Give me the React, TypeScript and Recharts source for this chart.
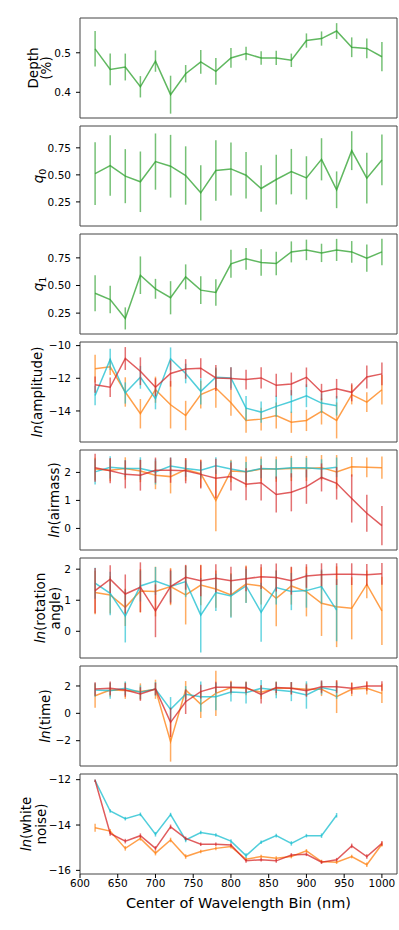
import { ErrorBar, Line, LineChart, ReferenceArea, XAxis, YAxis } from 'recharts'

const wavelengths = [620, 640, 660, 680, 700, 720, 740, 760, 780, 800, 820, 840, 860, 880, 900, 920, 940, 960, 980, 1000]
const xTicks = [600, 650, 700, 750, 800, 850, 900, 950, 1000]

const depth = [0.51, 0.458, 0.464, 0.414, 0.479, 0.394, 0.447, 0.477, 0.453, 0.487, 0.498, 0.487, 0.487, 0.481, 0.531, 0.536, 0.555, 0.514, 0.511, 0.49]
const depthErr = [0.045, 0.04, 0.034, 0.027, 0.027, 0.048, 0.022, 0.03, 0.034, 0.025, 0.017, 0.017, 0.018, 0.017, 0.018, 0.018, 0.02, 0.025, 0.025, 0.037]

const q0 = [0.512, 0.586, 0.488, 0.436, 0.623, 0.58, 0.494, 0.334, 0.54, 0.555, 0.497, 0.374, 0.457, 0.53, 0.472, 0.644, 0.362, 0.724, 0.469, 0.638]
const q0Err = [0.29, 0.28, 0.25, 0.28, 0.26, 0.29, 0.27, 0.255, 0.28, 0.245, 0.215, 0.215, 0.23, 0.21, 0.2, 0.195, 0.17, 0.18, 0.235, 0.235]

const q1 = [0.43, 0.373, 0.202, 0.593, 0.47, 0.389, 0.578, 0.458, 0.437, 0.696, 0.741, 0.708, 0.699, 0.804, 0.822, 0.795, 0.822, 0.804, 0.747, 0.804]
const q1Err = [0.163, 0.125, 0.1, 0.17, 0.09, 0.15, 0.113, 0.125, 0.12, 0.127, 0.098, 0.12, 0.107, 0.095, 0.093, 0.083, 0.1, 0.098, 0.123, 0.12]

// three observations: orange, cyan (stops at 940 nm), red
const ampOrange = [-11.41, -11.3, -12.84, -14.17, -12.7, -13.62, -14.28, -13.0, -12.6, -13.5, -14.58, -14.5, -14.28, -14.69, -14.58, -14.03, -14.58, -13.0, -13.46, -12.7]
const ampOrangeErr = [0.85, 0.5, 0.9, 0.9, 0.8, 1.45, 0.9, 0.85, 1.2, 0.8, 0.75, 0.7, 0.8, 0.65, 0.65, 0.8, 1.1, 0.6, 0.6, 0.9]
const ampCyan = [-13.05, -10.85, -12.9, -11.94, -13.25, -10.81, -11.71, -12.8, -11.94, -11.98, -13.83, -14.07, -13.72, -13.42, -13.07, -13.52, -13.68]
const ampCyanErr = [0.6, 0.65, 0.65, 0.7, 0.65, 0.7, 0.6, 0.8, 0.6, 0.65, 0.75, 0.65, 0.65, 0.7, 0.7, 0.6, 0.6]
const ampRed = [-12.39, -12.55, -10.79, -11.57, -12.55, -11.71, -11.43, -11.38, -11.98, -12.02, -12.08, -11.98, -12.43, -12.35, -11.94, -12.84, -12.64, -12.86, -11.92, -11.73]
const ampRedErr = [0.5, 0.6, 0.7, 0.85, 0.55, 0.8, 0.6, 0.6, 0.8, 0.7, 0.6, 0.65, 0.7, 0.7, 0.6, 0.5, 0.6, 0.55, 0.7, 0.7]

const airOrange = [2.12, 2.08, 2.14, 2.05, 1.9, 1.85, 2.1, 1.96, 1.0, 2.05, 2.02, 2.12, 2.12, 2.14, 2.14, 2.17, 2.02, 2.2, 2.18, 2.17]
const airOrangeErr = [0.4, 0.4, 0.4, 0.4, 0.5, 0.6, 0.4, 0.5, 1.1, 0.4, 0.55, 0.45, 0.45, 0.45, 0.45, 0.45, 0.6, 0.35, 0.35, 0.4]
const airCyan = [2.02, 2.18, 2.14, 2.14, 2.02, 2.23, 2.14, 2.08, 2.24, 2.12, 2.02, 2.14, 2.12, 2.17, 2.17, 2.12, 2.18]
const airCyanErr = [0.45, 0.4, 0.3, 0.4, 0.45, 0.3, 0.3, 0.3, 0.3, 0.3, 0.35, 0.35, 0.35, 0.35, 0.35, 0.35, 0.35]
const airRed = [2.17, 2.06, 1.93, 1.9, 2.08, 2.08, 2.06, 1.93, 1.79, 1.85, 1.58, 1.63, 1.21, 1.29, 1.49, 1.82, 1.61, 1.07, 0.54, 0.1]
const airRedErr = [0.5, 0.45, 0.5, 0.55, 0.45, 0.45, 0.45, 0.5, 0.7, 0.5, 0.57, 0.63, 0.64, 0.68, 0.61, 0.5, 0.58, 0.86, 0.66, 0.7]

const rotOrange = [1.25, 1.17, 0.77, 1.3, 1.28, 1.44, 1.17, 1.49, 1.36, 1.17, 1.52, 1.46, 1.06, 1.46, 1.28, 0.9, 0.79, 0.74, 1.51, 0.66]
const rotOrangeErr = [0.7, 0.6, 0.6, 0.7, 0.8, 0.6, 0.95, 0.65, 0.6, 0.7, 0.6, 0.6, 0.9, 0.6, 0.8, 1.05, 1.3, 1.0, 0.45, 1.1]
const rotCyan = [1.55, 1.22, 0.49, 1.46, 1.62, 1.44, 1.6, 0.52, 1.25, 1.14, 1.46, 0.61, 1.41, 1.28, 1.31, 1.44, 0.68]
const rotCyanErr = [0.5, 0.7, 0.85, 0.5, 0.45, 0.5, 0.5, 1.2, 0.6, 0.7, 0.55, 0.95, 0.55, 0.6, 0.55, 0.55, 1.0]
const rotRed = [1.31, 1.68, 1.2, 1.42, 0.66, 1.44, 1.74, 1.63, 1.71, 1.63, 1.69, 1.76, 1.73, 1.63, 1.78, 1.82, 1.84, 1.84, 1.82, 1.85]
const rotRedErr = [0.73, 0.45, 0.63, 0.8, 0.85, 0.55, 0.4, 0.5, 0.45, 0.45, 0.4, 0.4, 0.45, 0.45, 0.38, 0.37, 0.35, 0.35, 0.35, 0.35]

const timeOrange = [1.29, 1.71, 1.66, 1.59, 1.76, -2.07, 1.71, 0.66, 1.46, 1.88, 1.83, 1.54, 1.83, 1.83, 1.76, 1.76, 1.22, 1.76, 1.83, 1.46]
const timeOrangeErr = [0.88, 0.5, 0.6, 0.6, 0.7, 1.46, 0.65, 1.0, 1.66, 0.5, 0.5, 0.5, 0.5, 0.45, 0.45, 0.5, 1.2, 0.5, 0.45, 0.7]
const timeCyan = [1.71, 1.66, 1.83, 1.54, 1.78, 0.29, 1.39, 1.22, 1.22, 1.56, 1.51, 1.83, 1.71, 1.59, 1.34, 1.88, 1.66]
const timeCyanErr = [0.5, 0.6, 0.5, 0.5, 0.5, 0.9, 0.6, 1.1, 1.0, 0.7, 0.8, 0.6, 0.6, 0.7, 1.0, 0.5, 0.6]
const timeRed = [1.78, 1.83, 1.71, 1.41, 1.78, -0.66, 0.85, 1.59, 1.9, 1.9, 1.88, 1.39, 1.88, 1.83, 1.66, 1.95, 1.95, 1.83, 2.0, 2.0]
const timeRedErr = [0.5, 0.5, 0.5, 0.5, 0.45, 1.07, 0.9, 0.5, 0.4, 0.4, 0.4, 0.67, 0.4, 0.45, 0.45, 0.45, 0.45, 0.4, 0.35, 0.35]

const noiseOrange = [-14.12, -14.27, -15.03, -14.59, -15.24, -14.66, -15.39, -15.17, -15.03, -14.95, -15.51, -15.39, -15.46, -15.39, -15.14, -15.61, -15.64, -15.39, -15.75, -14.85]
const noiseOrangeErr = [0.18, 0.1, 0.1, 0.1, 0.1, 0.1, 0.1, 0.08, 0.08, 0.08, 0.08, 0.08, 0.08, 0.08, 0.08, 0.08, 0.08, 0.08, 0.1, 0.1]
const noiseCyan = [-12.04, -13.38, -13.72, -13.53, -14.41, -13.54, -14.66, -14.33, -14.44, -14.71, -15.35, -14.76, -14.47, -14.81, -14.47, -14.47, -13.57]
const noiseCyanErr = [0.05, 0.08, 0.08, 0.08, 0.1, 0.08, 0.1, 0.08, 0.08, 0.08, 0.1, 0.08, 0.08, 0.1, 0.08, 0.1, 0.1]
const noiseRed = [-12.04, -14.37, -14.71, -14.47, -15.03, -14.08, -14.59, -14.85, -14.85, -14.88, -15.58, -15.53, -15.58, -15.32, -15.29, -15.64, -15.53, -14.92, -15.39, -14.81]
const noiseRedErr = [0.05, 0.1, 0.1, 0.1, 0.1, 0.1, 0.08, 0.08, 0.08, 0.08, 0.08, 0.08, 0.08, 0.08, 0.08, 0.08, 0.08, 0.1, 0.1, 0.1]

const GREEN = '#2ca02c'
const ORANGE = '#ff7f0e'
const CYAN = '#17becf'
const RED = '#d62728'

const FONT = 'DejaVu Sans, sans-serif'
const PAD = 6
const PLOT_H = 100
const LABEL_SIZE = 13.5

type Series = { color: string; values: number[]; errors: number[] }

function rows(series: Series[]) {
  return wavelengths.map((w, i) => {
    const row: Record<string, number | null> = { w }
    series.forEach((s, k) => {
      row['v' + k] = s.values[i] ?? null
      row['e' + k] = s.errors[i] ?? null
    })
    return row
  })
}

const minus = (v: number) => String(v).replace('-', '\u2212')

type LabelLine = { x: number; parts: { text: string; italic?: boolean; sub?: boolean }[] }

function PanelLabel({ lines }: { lines: LabelLine[] }) {
  const cy = PAD + PLOT_H / 2
  return (
    <g>
      {lines.map((ln, i) => (
        <text
          key={i}
          x={ln.x}
          y={cy}
          transform={`rotate(-90 ${ln.x} ${cy})`}
          textAnchor="middle"
          dominantBaseline="central"
          fontFamily={FONT}
          fontSize={LABEL_SIZE}
          fill="#000"
        >
          {ln.parts.map((p, j) => (
            <tspan key={j} fontStyle={p.italic ? 'italic' : 'normal'} fontSize={p.sub ? 9.5 : LABEL_SIZE} dy={p.sub ? 4 : 0}>
              {p.text}
            </tspan>
          ))}
        </text>
      ))}
    </g>
  )
}

type PanelProps = {
  top: number
  series: Series[]
  domain: [number, number]
  ticks: number[]
  fmt?: (v: number) => string
  label: LabelLine[]
  last?: boolean
}

function Panel({ top, series, domain, ticks, fmt, label, last }: PanelProps) {
  const axisH = last ? 52 : 0
  return (
    <div style={{ position: 'absolute', left: 0, top: top - PAD }}>
      <LineChart
        width={399}
        height={PLOT_H + 2 * PAD + axisH}
        data={rows(series)}
        margin={{ top: PAD, right: 2, bottom: PAD, left: 0 }}
        style={{ overflow: 'visible' }}
      >
        <XAxis
          dataKey="w"
          type="number"
          domain={[600, 1020]}
          ticks={xTicks}
          hide={!last}
          height={axisH}
          axisLine={false}
          tickSize={4}
          tickMargin={2}
          tickLine={{ stroke: '#000' }}
          tick={{ fontSize: 10.5, fill: '#000', fontFamily: FONT }}
          label={() => (
            <text x={80 + 317 / 2} y={PAD + PLOT_H + 29} textAnchor="middle" dominantBaseline="central" fontFamily={FONT} fontSize={14.5} fill="#000">
              Center of Wavelength Bin (nm)
            </text>
          )}
        />
        <YAxis
          type="number"
          domain={domain}
          ticks={ticks}
          width={80}
          allowDataOverflow
          axisLine={false}
          tickSize={4}
          tickMargin={5}
          tickLine={{ stroke: '#000' }}
          tick={{ fontSize: 10.5, fill: '#000', fontFamily: FONT }}
          tickFormatter={fmt ?? minus}
          label={() => <PanelLabel lines={label} />}
        />
        {series.map((s, k) => (
          <Line
            key={k}
            dataKey={'v' + k}
            type="linear"
            stroke={s.color}
            strokeOpacity={0.75}
            strokeWidth={1.5}
            dot={false}
            activeDot={false}
            isAnimationActive={false}
          >
            <ErrorBar dataKey={'e' + k} width={0} stroke={s.color} strokeOpacity={0.65} strokeWidth={1.5} direction="y" isAnimationActive={false} />
          </Line>
        ))}
        <ReferenceArea x1={600} x2={1020} y1={domain[0]} y2={domain[1]} fill="none" stroke="#444" strokeWidth={1} ifOverflow="visible" />
      </LineChart>
    </div>
  )
}

const ln = (rest: string) => [{ text: 'ln', italic: true }, { text: rest }]
const trio = (o: number[], oe: number[], c: number[], ce: number[], r: number[], re: number[]): Series[] => [
  { color: ORANGE, values: o, errors: oe },
  { color: CYAN, values: c, errors: ce },
  { color: RED, values: r, errors: re },
]

export default function App() {
  return (
    <div style={{ position: 'absolute', left: 0, top: 0, width: 399, height: 930, background: '#fff', fontFamily: FONT }}>
      <Panel
        top={18}
        series={[{ color: GREEN, values: depth, errors: depthErr }]}
        domain={[0.335, 0.588]}
        ticks={[0.4, 0.5]}
        fmt={(v) => v.toFixed(1)}
        label={[{ x: 33, parts: [{ text: 'Depth' }] }, { x: 46, parts: [{ text: '(%)' }] }]}
      />
      <Panel
        top={126}
        series={[{ color: GREEN, values: q0, errors: q0Err }]}
        domain={[0.027, 0.952]}
        ticks={[0.25, 0.5, 0.75]}
        fmt={(v) => v.toFixed(2)}
        label={[{ x: 38, parts: [{ text: 'q', italic: true }, { text: '0', sub: true }] }]}
      />
      <Panel
        top={234}
        series={[{ color: GREEN, values: q1, errors: q1Err }]}
        domain={[0.061, 0.966]}
        ticks={[0.25, 0.5, 0.75]}
        fmt={(v) => v.toFixed(2)}
        label={[{ x: 38, parts: [{ text: 'q', italic: true }, { text: '1', sub: true }] }]}
      />
      <Panel
        top={342}
        series={trio(ampOrange, ampOrangeErr, ampCyan, ampCyanErr, ampRed, ampRedErr)}
        domain={[-15.9, -9.78]}
        ticks={[-14, -12, -10]}
        label={[{ x: 37, parts: ln('(amplitude)') }]}
      />
      <Panel
        top={450}
        series={trio(airOrange, airOrangeErr, airCyan, airCyanErr, airRed, airRedErr)}
        domain={[-0.77, 2.8]}
        ticks={[0, 1, 2]}
        label={[{ x: 54, parts: ln('(airmass)') }]}
      />
      <Panel
        top={558}
        series={trio(rotOrange, rotOrangeErr, rotCyan, rotCyanErr, rotRed, rotRedErr)}
        domain={[-0.86, 2.36]}
        ticks={[0, 1, 2]}
        label={[{ x: 40, parts: ln('(rotation') }, { x: 55, parts: [{ text: 'angle)' }] }]}
      />
      <Panel
        top={666}
        series={trio(timeOrange, timeOrangeErr, timeCyan, timeCyanErr, timeRed, timeRedErr)}
        domain={[-3.85, 3.46]}
        ticks={[-2, 0, 2]}
        label={[{ x: 45, parts: ln('(time)') }]}
      />
      <Panel
        top={774}
        series={trio(noiseOrange, noiseOrangeErr, noiseCyan, noiseCyanErr, noiseRed, noiseRedErr)}
        domain={[-16.16, -11.75]}
        ticks={[-16, -14, -12]}
        label={[{ x: 26, parts: ln('(white') }, { x: 41, parts: [{ text: 'noise)' }] }]}
        last
      />
    </div>
  )
}
